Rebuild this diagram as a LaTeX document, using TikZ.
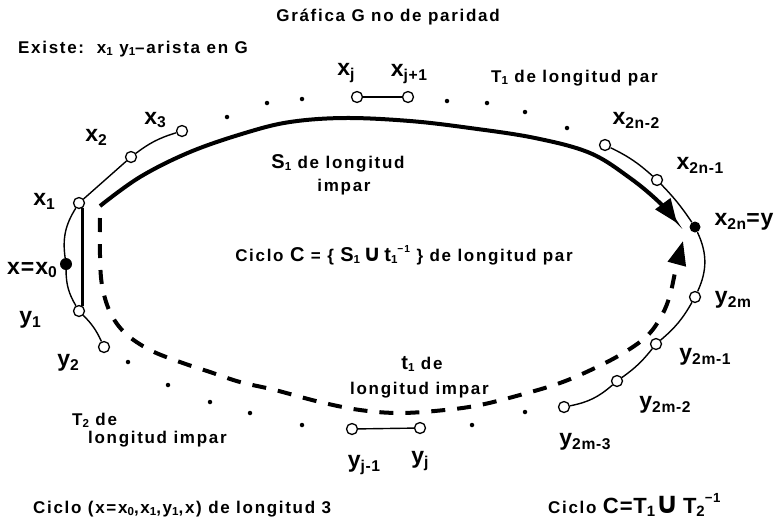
\documentclass[tikz,border=0pt]{standalone}
\usepackage{fontspec}
\setmainfont{Liberation Sans}
\newfontfamily\dvs{DejaVu Sans}
\usetikzlibrary{arrows.meta}
\newcommand\dn[1]{\raisebox{-0.17em}{\scalebox{0.68}{#1}}}
\newcommand\up[1]{\raisebox{0.5em}{\scalebox{0.6}{#1}}}
\newcommand\uni{{\dvs\scalebox{1.35}{∪}}}
\newcommand\bgl[1]{{\fontsize{20}{22}\selectfont #1}}
\begin{document}
\begin{tikzpicture}[x=1pt,y=-1pt,
 vtx/.style={circle,draw,fill=white,line width=1.3pt,minimum size=11pt,inner sep=0pt},
 fvtx/.style={circle,fill=black,minimum size=12pt,inner sep=0pt},
 pdot/.style={circle,fill=black,minimum size=4.5pt,inner sep=0pt},
 lbl/.style={font=\fontsize{23}{26}\selectfont\bfseries\addfontfeature{LetterSpace=4},inner sep=0pt},
 txt/.style={font=\fontsize{17}{20}\selectfont\bfseries\addfontfeature{LetterSpace=10},inner sep=0pt},
 edg/.style={line width=1.4pt},
 thk/.style={line width=4pt},
 dsh/.style={line width=4pt,dash pattern=on 14pt off 12pt},
 bigtip/.style={-{Triangle[length=24pt,width=18pt]}}
]
\fill[white] (0,0) rectangle (779,523);
\useasboundingbox (0,0) rectangle (779,523);

% vertices
\node[vtx] (x1) at (79,203) {};
\node[fvtx] (x0) at (66,264) {};
\node[vtx] (y1) at (79,311) {};
\node[vtx] (y2) at (104,347) {};
\node[vtx] (x2) at (131,157) {};
\node[vtx] (x3) at (182,131) {};
\node[vtx] (xj) at (357,97) {};
\node[vtx] (xj1) at (408,97) {};
\node[vtx] (x2n2) at (605,145) {};
\node[vtx] (x2n1) at (657,180) {};
\node[fvtx,minimum size=11pt] (x2n) at (695,227) {};
\node[vtx] (y2m) at (695,297) {};
\node[vtx] (y2m1) at (656,344) {};
\node[vtx] (y2m2) at (617,381) {};
\node[vtx] (y2m3) at (564,407) {};
\node[vtx] (yj) at (420,428) {};
\node[vtx] (yj1) at (352,429) {};

% thin edges
\draw[edg] (x0) to[bend left=20] (x1);
\draw[edg] (x0) to[bend right=15] (y1);
\draw[edg] (x1) -- (x2);
\draw[edg] (x2) to[bend left=10] (x3);
\draw[edg] (xj) -- (xj1);
\draw[edg] (x2n2) to[bend left=8] (x2n1);
\draw[edg] (x2n1) to[bend left=5] (x2n);
\draw[edg] (x2n) to[bend left=25] (y2m);
\draw[edg] (y2m) to[bend left=10] (y2m1);
\draw[edg] (y2m1) to[bend left=8] (y2m2);
\draw[edg] (y2m2) to[bend left=15] (y2m3);
\draw[edg] (yj1) -- (yj);
\draw[edg] (y1) to[bend left=10] (y2);
\draw[line width=3pt] (x1.-55) -- (y1.55);

% path S1 and t1
\coordinate (s1a) at (100,206);
\coordinate (s1b) at (677,223);
\draw[thk,bigtip] plot[smooth,tension=0.6] coordinates {(s1a) (140,177) (190,152) (245,133) (290,122) (345,118) (410,121) (470,128) (535,138) (590,153) (630,178) (660,203) (s1b)};
\coordinate (t1a) at (100,218);
\coordinate (t1b) at (683,241);
\draw[dsh,bigtip] plot[smooth,tension=0.6] coordinates {(t1a) (100,255) (102,285) (110,312) (125,333) (150,350) (180,362) (210,372) (240,382) (275,390) (320,402) (360,410) (400,413) (445,410) (480,405) (520,395) (560,383) (595,368) (625,352) (648,335) (662,315) (670,295) (676,268) (t1b)};

% dots
\foreach \p [count=\i] in {(227,117),(267,103),(302,99),(447,101),(487,103),(525,112),(567,128),(128,362),(168,385),(210,402),(250,413),(302,425),(472,425),(525,412)}
  \node[pdot] (d\i) at \p {};

% vertex labels
\node[lbl] (lx1) at (44,201) {x\dn{1}};
\node[lbl] (lx0) at (32,270) {x=x\dn{0}};
\node[lbl] (ly1) at (30,320) {y\dn{1}};
\node[lbl] (ly2) at (68,363) {y\dn{2}};
\node[lbl] (lx2) at (96,137) {x\dn{2}};
\node[lbl] (lx3) at (155,120) {x\dn{3}};
\node[lbl] (lxj) at (346,73) {x\dn{j}};
\node[lbl] (lxj1) at (409,74) {x\dn{j+1}};
\node[lbl] (lx2n2) at (636,120) {x\dn{2n-2}};
\node[lbl] (lx2n1) at (700,165) {x\dn{2n-1}};
\node[lbl] (lx2n) at (744,222) {x\dn{2n}=y};
\node[lbl] (ly2m) at (733,300) {y\dn{2m}};
\node[lbl] (ly2m1) at (705,357) {y\dn{2m-1}};
\node[lbl] (ly2m2) at (665,405) {y\dn{2m-2}};
\node[lbl] (ly2m3) at (585,442) {y\dn{2m-3}};
\node[lbl] (lyj) at (420,461) {y\dn{j}};
\node[lbl] (lyj1) at (364,465) {y\dn{j-1}};

% texts
\node[txt,anchor=base] (title) at (388,21) {Gráfica G no de paridad};
\node[txt,anchor=base west] (exi) at (18,53) {Existe:\ \ x\dn{1}\ y\dn{1}–arista\ en\ G};
\node[txt,anchor=base west] (T1) at (491,82) {T\dn{1} de longitud par};
\node[txt,anchor=base] (S1a) at (338,168) {\bgl{S}\dn{1} de longitud};
\node[txt,anchor=base] (S1b) at (344,191) {impar};
\node[txt,anchor=base] (cc) at (404,261) {Ciclo \bgl{C} = \{ \bgl{S}\dn{1}\,\uni\,\bgl{t}\dn{1}\up{−1} \} de longitud par};
\node[txt,anchor=base] (t1l) at (422,369) {\bgl{t}\dn{1} de};
\node[txt,anchor=base west] (t1m) at (350,394) {longitud impar};
\node[txt,anchor=base west] (T2a) at (72,425) {T\dn{2} de};
\node[txt,anchor=base west] (T2b) at (88,443) {longitud impar};
\node[txt,anchor=base west] (c3) at (33,513) {Ciclo (x=x\dn{0},x\dn{1},y\dn{1},x) de longitud 3};
\node[txt,anchor=base west] (cT) at (548,513) {Ciclo {\fontsize{22}{24}\selectfont\addfontfeature{LetterSpace=4}C=T\dn{1}\uni\,T\dn{2}\up{−1}}};
\end{tikzpicture}
\end{document}
